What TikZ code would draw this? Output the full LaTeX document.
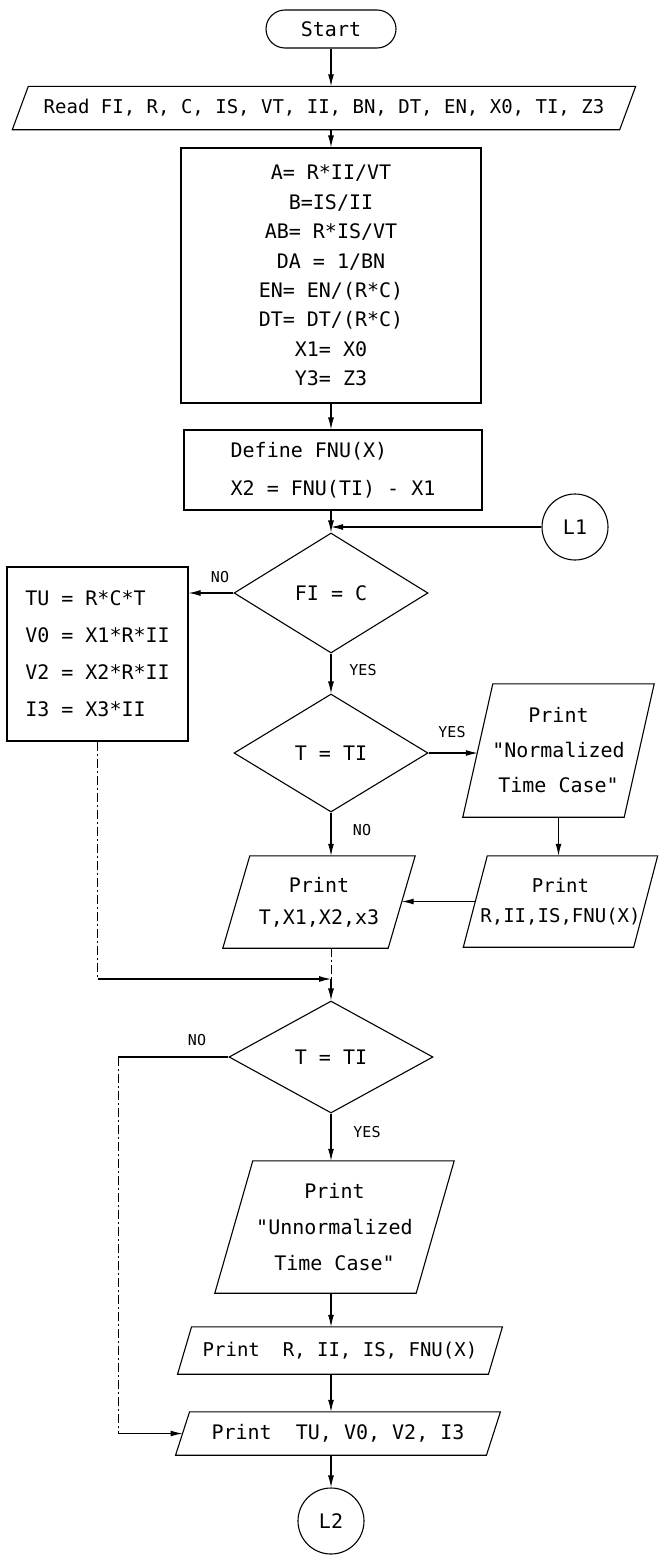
\documentclass[tikz,border=0pt]{standalone}
\usepackage{fontspec}
\setmonofont{DejaVu Sans Mono}
\usetikzlibrary{shapes.geometric,arrows.meta,calc}

\newcommand\paraframe[2]{\draw[ln] ([xshift=#2]#1.north west) -- ([xshift=#2]#1.north east) -- ([xshift=-#2]#1.south east) -- ([xshift=-#2]#1.south west) -- cycle;}

\begin{document}
\begin{tikzpicture}[x=1pt,y=-1pt,
 ln/.style={line width=1.1pt, black},
 arr/.style={ln, -{Latex[length=12pt,width=6pt]}},
 dln/.style={ln, line width=0.9pt, dash pattern=on 9pt off 3pt on 2pt off 3pt},
 txt/.style={font=\ttfamily\fontsize{20}{30}\selectfont},
 boxnode/.style={draw, ln, txt, inner sep=0pt, align=center},
 pnode/.style={txt, inner sep=0pt, align=center},
 dnode/.style={draw, ln, txt, diamond, inner sep=0pt},
 lab/.style={font=\ttfamily\fontsize{15}{18}\selectfont, inner sep=0pt},
 conn/.style={draw, ln, circle, txt, minimum size=66pt, inner sep=0pt}]

\useasboundingbox (0,0) rectangle (662,1555);
\fill[white] (0,0) rectangle (662,1555);

% nodes
\node[boxnode, rounded corners=19pt, minimum width=130pt, minimum height=38pt] (start) at (331,29) {Start};

\node[pnode, minimum width=607pt, minimum height=43pt, font=\ttfamily\fontsize{19}{24}\selectfont] (read) at (324,108) {Read FI, R, C, IS, VT, II, BN, DT, EN, X0, TI, Z3};
\paraframe{read}{8pt}

\node[boxnode, minimum width=300pt, minimum height=255pt, font=\ttfamily\fontsize{20}{29.4}\selectfont] (b1) at (331,275.5)
 {A= R*II/VT\\B=IS/II\\AB= R*IS/VT\\DA = 1/BN\\EN= EN/(R*C)\\DT= DT/(R*C)\\X1= X0\\Y3= Z3};

\node[boxnode, align=left, minimum width=298pt, minimum height=80pt, font=\ttfamily\fontsize{20}{38}\selectfont] (b2) at (333,470)
 {Define FNU(X)\\X2 = FNU(TI) - X1};

\coordinate (j1) at (331,527);
\node[conn] (l1) at (575,527) {L1};

\node[dnode, minimum width=194pt, minimum height=120pt] (d1) at (331,593) {FI = C};

\node[boxnode, align=left, minimum width=181pt, minimum height=174pt, font=\ttfamily\fontsize{20}{37}\selectfont] (tu) at (97.5,654)
 {TU = R*C*T\\V0 = X1*R*II\\V2 = X2*R*II\\I3 = X3*II};

\node[dnode, minimum width=194pt, minimum height=118pt] (d2) at (331,753) {T = TI};

\node[pnode, minimum width=161pt, minimum height=133pt, font=\ttfamily\fontsize{20}{35}\selectfont] (norm) at (558.5,750.5)
 {Print\\"Normalized\\Time Case"};
\paraframe{norm}{15pt}

\node[pnode, minimum width=170pt, minimum height=91pt, font=\ttfamily\fontsize{19}{30}\selectfont] (prr) at (560.5,901.5)
 {Print\\R,II,IS,FNU(X)};
\paraframe{prr}{12pt}

\node[pnode, minimum width=165pt, minimum height=92pt, font=\ttfamily\fontsize{20}{32}\selectfont] (pt) at (319,902)
 {Print\\T,X1,X2,x3};
\paraframe{pt}{13.5pt}

\coordinate (j2) at (331,979);

\node[dnode, minimum width=204pt, minimum height=112pt] (d3) at (331,1057) {T = TI};
\coordinate (c3) at (118,1057);

\node[pnode, minimum width=201pt, minimum height=132pt, font=\ttfamily\fontsize{20}{36}\selectfont] (unn) at (334.5,1227)
 {Print\\"Unnormalized\\Time Case"};
\paraframe{unn}{19pt}

\node[pnode, minimum width=310.5pt, minimum height=47pt, font=\ttfamily\fontsize{19}{24}\selectfont] (pr2) at (340,1350.5)
 {Print\ \ R, II, IS, FNU(X)};
\paraframe{pr2}{7pt}

\node[pnode, minimum width=310.5pt, minimum height=43pt] (ptu) at (338,1433.5)
 {Print\ \ TU, V0, V2, I3};
\paraframe{ptu}{7pt}

\node[conn] (l2) at (331,1521) {L2};

% labels
\node[lab] (no1) at (220,577) {NO};
\node[lab] (yes1) at (363,670) {YES};
\node[lab] (yes2) at (452,732) {YES};
\node[lab] (no2) at (362,830) {NO};
\node[lab] (no3) at (197,1040) {NO};
\node[lab] (yes3) at (367,1132) {YES};

% connectors
\draw[arr] (start.south) -- (start.south |- read.north);
\draw[arr] (b1.north |- read.south) -- (b1.north);
\draw[arr] (b1.south) -- (b1.south |- b2.north);
\draw[arr] (b2.south -| d1.north) -- (d1.north);
\draw[arr] (l1.west) -- (j1);
\draw[arr] (d1.west) -- (d1.west -| tu.east);
\draw[arr] (d1.south) -- (d2.north);
\draw[arr] (d2.east) -- (d2.east -| norm.west);
\draw[arr] (norm.south) -- (norm.south |- prr.north);
\draw[arr] (prr.west) -- (prr.west -| pt.east);
\draw[arr] (d2.south) -- (d2.south |- pt.north);
\draw[dln] (j2 |- pt.south) -- (j2);
\draw[dln] (tu.south) -- (tu.south |- j2);
\draw[arr] (tu.south |- j2) -- (j2);
\draw[arr] (j2) -- (d3.north);
\draw[ln] (d3.west) -- (c3);
\draw[dln] (c3) -- (c3 |- ptu.west);
\draw[arr] (c3 |- ptu.west) -- (ptu.west);
\draw[arr] (d3.south) -- (d3.south |- unn.north);
\draw[arr] (d3.south |- unn.south) -- (d3.south |- pr2.north);
\draw[arr] (d3.south |- pr2.south) -- (d3.south |- ptu.north);
\draw[arr] (d3.south |- ptu.south) -- (l2.north);
\end{tikzpicture}
\end{document}
